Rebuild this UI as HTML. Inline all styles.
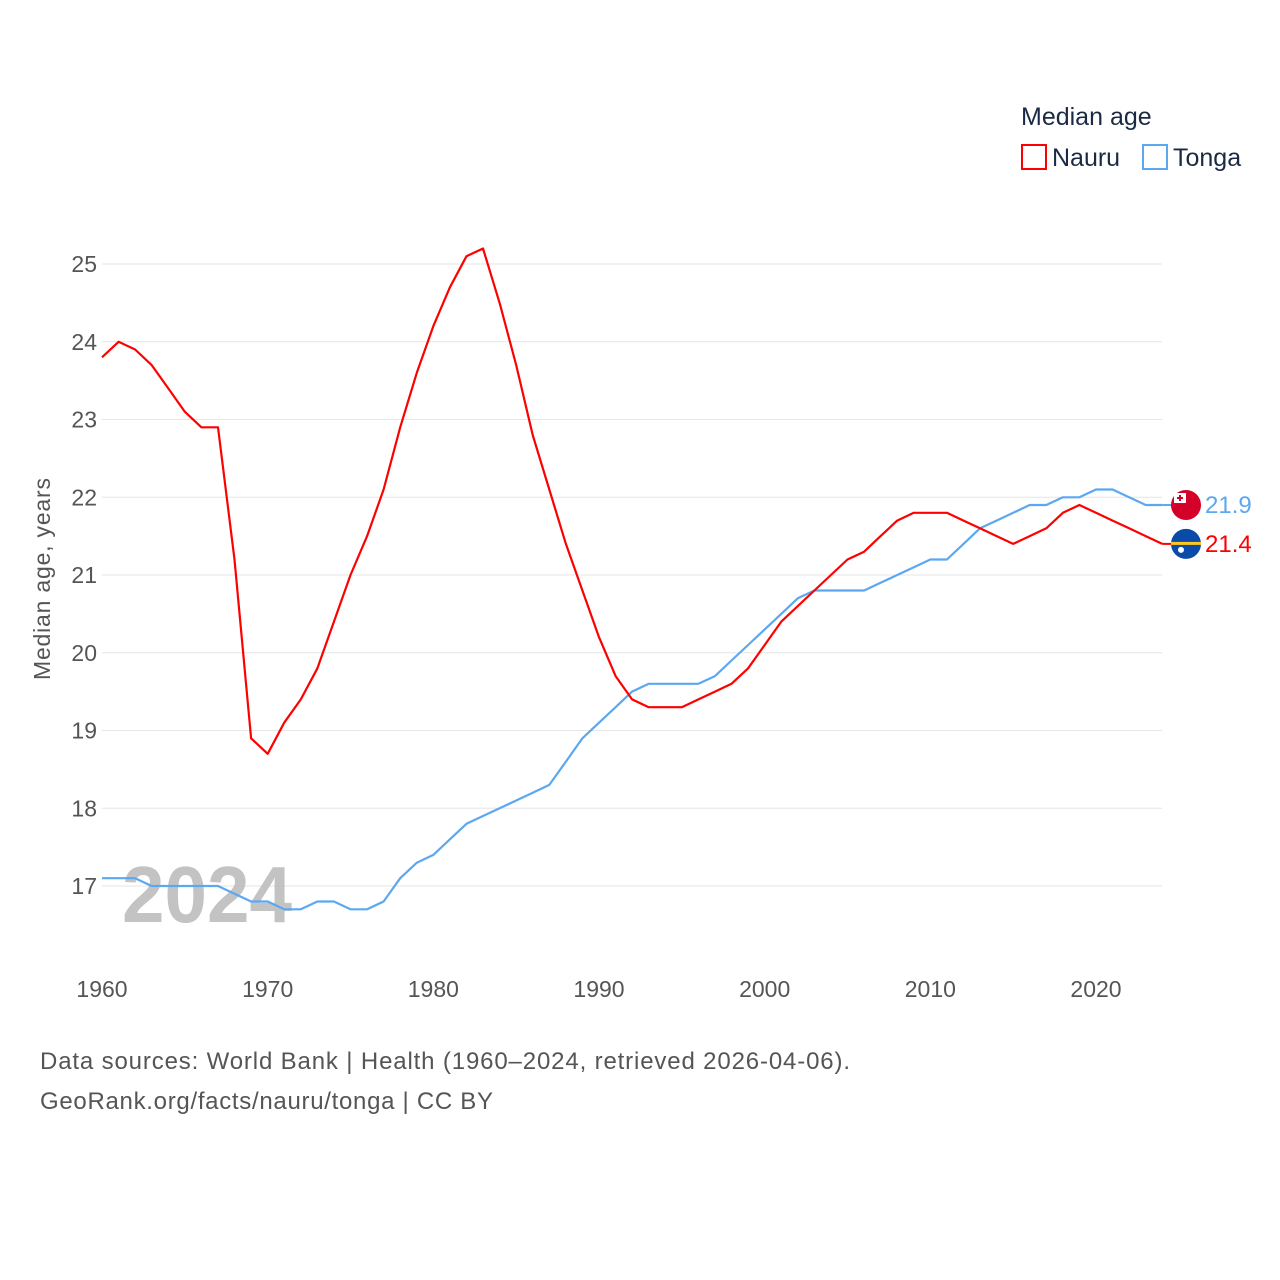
<!DOCTYPE html>
<html><head><meta charset="utf-8"><style>
html,body{margin:0;padding:0;background:#fff;}
body{width:1280px;height:1280px;position:relative;overflow:hidden;font-family:"Liberation Sans",sans-serif;}
</style></head><body>
<svg id="chart" width="1280" height="1280" viewBox="0 0 1280 1280" xmlns="http://www.w3.org/2000/svg" style="position:absolute;left:0;top:0">
<g>
<text x="1021" y="125" font-size="25" fill="#1b2a44">Median age</text>
<rect x="1022" y="145" width="24" height="24" fill="none" stroke="#f00" stroke-width="2"/>
<text x="1052" y="166" font-size="25" fill="#1b2a44">Nauru</text>
<rect x="1143" y="145" width="24" height="24" fill="none" stroke="#5ca8f0" stroke-width="2"/>
<text x="1173" y="166" font-size="25" fill="#1b2a44">Tonga</text>
</g>
<g id="grid"></g>
<text x="122" y="922" font-size="80" font-weight="bold" fill="#bdbdbd" opacity="0.9" textLength="170" lengthAdjust="spacingAndGlyphs">2024</text>
<g id="series"></g>
<text transform="translate(50,579) rotate(-90)" text-anchor="middle" font-size="23" fill="#555" textLength="202">Median age, years</text>
<text x="40" y="1069" font-size="24" fill="#555" textLength="810">Data sources: World Bank | Health (1960–2024, retrieved 2026-04-06).</text>
<text x="40" y="1109" font-size="24" fill="#555" textLength="453">GeoRank.org/facts/nauru/tonga | CC BY</text>
</svg>
<script>
const years = [];
for (let y = 1960; y <= 2024; y++) years.push(y);
const nauru = [23.8,24.0,23.9,23.7,23.4,23.1,22.9,22.9,21.2,18.9,18.7,19.1,19.4,19.8,20.4,21.0,21.5,22.1,22.9,23.6,24.2,24.7,25.1,25.2,24.5,23.7,22.8,22.1,21.4,20.8,20.2,19.7,19.4,19.3,19.3,19.3,19.4,19.5,19.6,19.8,20.1,20.4,20.6,20.8,21.0,21.2,21.3,21.5,21.7,21.8,21.8,21.8,21.7,21.6,21.5,21.4,21.5,21.6,21.8,21.9,21.8,21.7,21.6,21.5,21.4];
const tonga = [17.1,17.1,17.1,17.0,17.0,17.0,17.0,17.0,16.9,16.8,16.8,16.7,16.7,16.8,16.8,16.7,16.7,16.8,17.1,17.3,17.4,17.6,17.8,17.9,18.0,18.1,18.2,18.3,18.6,18.9,19.1,19.3,19.5,19.6,19.6,19.6,19.6,19.7,19.9,20.1,20.3,20.5,20.7,20.8,20.8,20.8,20.8,20.9,21.0,21.1,21.2,21.2,21.4,21.6,21.7,21.8,21.9,21.9,22.0,22.0,22.1,22.1,22.0,21.9,21.9];
const yTicks = [17,18,19,20,21,22,23,24,25];
const xTicks = [1960,1970,1980,1990,2000,2010,2020];

const NS = "http://www.w3.org/2000/svg";
const xs = y => 102 + (y - 1960) * (994 / 60);
const ys = v => 886 - (v - 17) * (622 / 8);
function mk(tag, attrs, parent) {
  const e = document.createElementNS(NS, tag);
  for (const k in attrs) e.setAttribute(k, attrs[k]);
  parent.appendChild(e);
  return e;
}
const grid = document.getElementById('grid');
yTicks.forEach(t => {
  const l = mk('line', {x1: 102, x2: 1162, y1: ys(t), y2: ys(t), stroke: '#e6e6e6', 'stroke-width': 1}, grid);
  
  
  const tx = mk('text', {x: 97, y: ys(t) + 8, 'text-anchor': 'end', 'font-size': 23, fill: '#555'}, grid);
  tx.textContent = t;
  
  
});
xTicks.forEach(t => {
  const tx = mk('text', {x: xs(t), y: 997, 'text-anchor': 'middle', 'font-size': 23, fill: '#555'}, grid);
  tx.textContent = t;
  
  
});
const series = document.getElementById('series');
function line(vals, color, name) {
  const d = vals.map((v, i) => (i ? 'L' : 'M') + xs(years[i]).toFixed(1) + ',' + ys(v).toFixed(1)).join(' ');
  const p = mk('path', {d: d, fill: 'none', stroke: color, 'stroke-width': 2.2, 'stroke-linejoin': 'round'}, series);
  
  
}
line(tonga, '#5ca8f0', 'tonga-line');
line(nauru, '#f00', 'nauru-line');

const lastT = tonga[tonga.length - 1], lastN = nauru[nauru.length - 1];
const ex = xs(2024);
const c1 = mk('line', {x1: ex, x2: 1172, y1: ys(lastT), y2: ys(lastT), stroke: '#5ca8f0', 'stroke-width': 2}, series);


const c2 = mk('line', {x1: ex, x2: 1172, y1: ys(lastN), y2: ys(lastN), stroke: '#f00', 'stroke-width': 2}, series);



const tf = mk('g', {}, series);


mk('circle', {cx: 1186, cy: ys(lastT), r: 15, fill: '#d5002a'}, tf);
mk('rect', {x: 1174, y: ys(lastT) - 12, width: 12, height: 10, fill: '#fff'}, tf);
mk('path', {d: `M1180,${ys(lastT)-10} v6 M1177,${ys(lastT)-7} h6`, stroke: '#d5002a', 'stroke-width': 2}, tf);
const nf = mk('g', {}, series);


mk('circle', {cx: 1186, cy: ys(lastN), r: 15, fill: '#0a4aa8'}, nf);
mk('rect', {x: 1171, y: ys(lastN) - 2, width: 30, height: 3, fill: '#ffc61e'}, nf);
mk('circle', {cx: 1181, cy: ys(lastN) + 6, r: 3, fill: '#fff'}, nf);

const lt = mk('text', {x: 1205, y: ys(lastT) + 8, 'font-size': 24, fill: '#5ca8f0'}, series);
lt.textContent = lastT.toFixed(1);


const ln = mk('text', {x: 1205, y: ys(lastN) + 8, 'font-size': 24, fill: '#f00'}, series);
ln.textContent = lastN.toFixed(1);


</script>
</body></html>
